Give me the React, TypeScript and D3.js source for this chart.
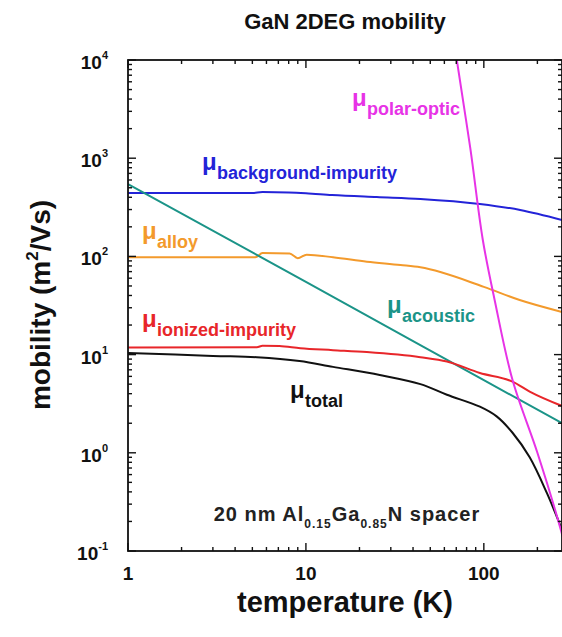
import React from "react";
import * as d3 from "d3";

const W = 562;
const H = 637;
const FONT = "'Liberation Sans', Arial, Helvetica, sans-serif";

// axis extents
const tempDomain: [number, number] = [1, 275];
const mobilityDomain: [number, number] = [0.1, 1e4];
const xTickValues = [1, 10, 100];
const xTickLabels = ["1", "10", "100"];
const yTickExponents = [4, 3, 2, 1, 0, -1];

// mobility components vs temperature (K), in m^2/Vs
const backgroundT = [1, 5, 5.7, 8, 10, 14, 25, 44, 95, 160, 275];
const backgroundMu = [442, 442, 452, 448, 440, 422, 402, 385, 342, 297, 235];

const alloyT = [1, 5.2, 5.7, 8.1, 9.0, 10.1, 14.2, 22, 34, 44, 100, 159, 275];
const alloyMu = [98, 98, 108, 107, 96, 104, 98, 88.4, 81.7, 77.4, 49, 36, 27.2];

const ionizedT = [1, 5.3, 5.7, 7.1, 9.3, 14.2, 22, 44, 62, 95, 145, 181, 275];
const ionizedMu = [11.8, 11.9, 12.3, 12.2, 11.6, 11.1, 10.6, 9.4, 8.5, 6.5, 5.3, 4.2, 3.0];

const acousticT = [1, 10, 100, 275];
const acousticMu = [546, 55, 5.5, 2.0];

const polarT = [65, 70.5, 84, 98.7, 115, 145, 200, 271, 300];
const polarMu = [30000, 10000, 1250, 147, 36, 5.5, 1.0, 0.164, 0.08];

const totalT = [1, 3, 5.3, 9.2, 14.2, 26, 44, 62, 95, 118, 145, 181, 226, 275];
const totalMu = [10.4, 9.7, 9.4, 8.6, 7.5, 6.2, 5.0, 3.9, 2.95, 2.35, 1.6, 0.9, 0.39, 0.165];

const margin = { left: 128, right: 0, top: 60, bottom: 86 };

export default function App() {
  const x = d3
    .scaleLog()
    .domain(tempDomain)
    .range([margin.left, W - margin.right]);
  const y = d3
    .scaleLog()
    .domain(mobilityDomain)
    .range([H - margin.bottom, margin.top]);

  const x0 = margin.left;
  const x1 = W - margin.right;
  const y0 = H - margin.bottom;
  const y1 = margin.top;

  const makePath = (ts: number[], ms: number[], curve: d3.CurveFactory) =>
    d3
      .line<[number, number]>()
      .x((d) => x(d[0]))
      .y((d) => y(d[1]))
      .curve(curve)(ts.map((t, i) => [t, ms[i]] as [number, number])) || "";

  const series = [
    { t: backgroundT, m: backgroundMu, color: "#2323d8", curve: d3.curveMonotoneX },
    { t: alloyT, m: alloyMu, color: "#f39a2c", curve: d3.curveMonotoneX },
    { t: acousticT, m: acousticMu, color: "#1b9488", curve: d3.curveMonotoneX },
    { t: ionizedT, m: ionizedMu, color: "#e8262a", curve: d3.curveMonotoneX },
    { t: totalT, m: totalMu, color: "#111111", curve: d3.curveCatmullRom.alpha(0.5) },
    { t: polarT, m: polarMu, color: "#e733e6", curve: d3.curveCatmullRom.alpha(0.5) },
  ];

  // tick positions
  const xMinor: number[] = [];
  for (let dec = 1; dec <= 100; dec *= 10) {
    for (let k = 2; k <= 9; k++) {
      const v = dec * k;
      if (v < tempDomain[1]) xMinor.push(v);
    }
  }
  const yMinor: number[] = [];
  for (let e = -1; e < 4; e++) {
    for (let k = 2; k <= 9; k++) yMinor.push(k * Math.pow(10, e));
  }

  const major = 8;
  const minor = 4;

  const muLabel = (
    px: number,
    py: number,
    sub: string,
    color: string,
    key: string
  ) => (
    <g key={key} fill={color} fontFamily={FONT} fontWeight="bold">
      <text x={px} y={py} fontSize={24}>
        μ
      </text>
      <text x={px + 15} y={py + 9} fontSize={18}>
        {sub}
      </text>
    </g>
  );

  return (
    <svg
      width={W}
      height={H}
      style={{ position: "absolute", left: 0, top: 0, background: "#fff" }}
    >
      <rect x={0} y={0} width={W} height={H} fill="#fff" />
      <defs>
        <clipPath id="plot-clip">
          <rect x={x0} y={y1} width={x1 - x0} height={y0 - y1} />
        </clipPath>
      </defs>

      {/* title */}
      <text
        x={345}
        y={29}
        textAnchor="middle"
        fontFamily={FONT}
        fontWeight="bold"
        fontSize={22}
        fill="#111"
      >
        GaN 2DEG mobility
      </text>

      {/* curves */}
      <g clipPath="url(#plot-clip)" fill="none" strokeWidth={2}>
        {series.map((s, i) => (
          <path key={i} d={makePath(s.t, s.m, s.curve)} stroke={s.color} />
        ))}
      </g>

      {/* frame */}
      <rect
        x={x0}
        y={y1}
        width={x1 - x0}
        height={y0 - y1}
        fill="none"
        stroke="#111"
        strokeWidth={1.8}
      />

      {/* ticks on all four sides, pointing inward */}
      <g stroke="#111" strokeWidth={1.4}>
        {xTickValues.map((v) => (
          <g key={"xm" + v}>
            <line x1={x(v)} x2={x(v)} y1={y0} y2={y0 - major} />
            <line x1={x(v)} x2={x(v)} y1={y1} y2={y1 + major} />
          </g>
        ))}
        {xMinor.map((v) => (
          <g key={"xn" + v}>
            <line x1={x(v)} x2={x(v)} y1={y0} y2={y0 - minor} />
            <line x1={x(v)} x2={x(v)} y1={y1} y2={y1 + minor} />
          </g>
        ))}
        {yTickExponents.map((e) => {
          const v = Math.pow(10, e);
          return (
            <g key={"ym" + e}>
              <line x1={x0} x2={x0 + major} y1={y(v)} y2={y(v)} />
              <line x1={x1} x2={x1 - major} y1={y(v)} y2={y(v)} />
            </g>
          );
        })}
        {yMinor.map((v) => (
          <g key={"yn" + v}>
            <line x1={x0} x2={x0 + minor} y1={y(v)} y2={y(v)} />
            <line x1={x1} x2={x1 - minor} y1={y(v)} y2={y(v)} />
          </g>
        ))}
      </g>

      {/* tick labels */}
      <g fontFamily={FONT} fontWeight="bold" fontSize={19} fill="#111">
        {xTickValues.map((v, i) => (
          <text key={v} x={x(v)} y={580} textAnchor="middle">
            {xTickLabels[i]}
          </text>
        ))}
        {yTickExponents.map((e) => (
          <text key={e} x={108} y={y(Math.pow(10, e)) + 9} textAnchor="end">
            10
            <tspan fontSize={11} dy={-10}>
              {String(e)}
            </tspan>
          </text>
        ))}
      </g>

      {/* axis titles */}
      <text
        x={345}
        y={612}
        textAnchor="middle"
        fontFamily={FONT}
        fontWeight="bold"
        fontSize={29}
        fill="#111"
      >
        temperature (K)
      </text>
      <text
        transform="translate(50,305) rotate(-90)"
        textAnchor="middle"
        fontFamily={FONT}
        fontWeight="bold"
        fontSize={28}
        fill="#111"
      >
        mobility (m
        <tspan fontSize={17} dy={-12}>
          2
        </tspan>
        <tspan dy={12}>/Vs)</tspan>
      </text>

      {/* curve labels */}
      {muLabel(352, 106, "polar-optic", "#e733e6", "po")}
      {muLabel(202, 170, "background-impurity", "#2323d8", "bg")}
      {muLabel(142, 239, "alloy", "#f39a2c", "al")}
      {muLabel(142, 327, "ionized-impurity", "#e8262a", "ii")}
      {muLabel(387, 313, "acoustic", "#1b9488", "ac")}
      {muLabel(290, 398, "total", "#111111", "to")}

      {/* sample annotation */}
      <text
        x={347}
        y={521}
        textAnchor="middle"
        fontFamily={FONT}
        fontWeight="bold"
        fontSize={20}
        fill="#222"
        letterSpacing={1}
      >
        20 nm Al
        <tspan fontSize={12} dy={7}>
          0.15
        </tspan>
        <tspan dy={-7}>Ga</tspan>
        <tspan fontSize={12} dy={7}>
          0.85
        </tspan>
        <tspan dy={-7}>N spacer</tspan>
      </text>
    </svg>
  );
}
